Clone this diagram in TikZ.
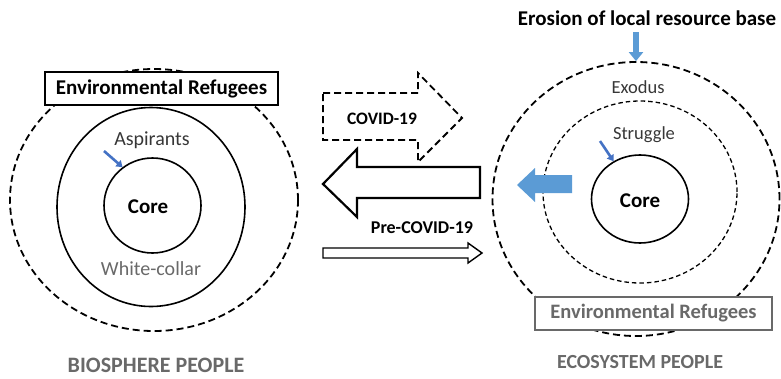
\documentclass[tikz,border=0pt]{standalone}
\usepackage{fontspec}
\setmainfont{Carlito}
\usetikzlibrary{shapes.geometric,arrows.meta}
\definecolor{arrowblue}{RGB}{91,155,213}
\definecolor{darkblue}{RGB}{68,114,196}
\definecolor{greytext}{RGB}{105,105,105}
\definecolor{labeltext}{RGB}{55,55,55}
\tikzset{
  ring/.style={ellipse, draw, inner sep=0pt, line width=1.6pt},
  dashring/.style={ring, line width=1.8pt, dash pattern=on 7pt off 4pt},
  finering/.style={ring, line width=1.3pt, dash pattern=on 4.5pt off 3pt},
  lbl/.style={inner sep=1pt, text=labeltext, font=\fontsize{19}{21}\selectfont},
  boldlbl/.style={inner sep=1pt, font=\fontsize{21}{23}\selectfont\bfseries},
  greylbl/.style={inner sep=1pt, text=greytext, font=\fontsize{20}{22}\selectfont\bfseries},
  refbox/.style={draw, fill=white, line width=1.3pt, inner sep=0pt, minimum height=33pt, font=\fontsize{21}{23}\selectfont\bfseries},
  smallarrow/.style={darkblue, line width=2.6pt, -{Triangle[width=8pt,length=6pt]}},
  blockarrow/.style={line join=miter}
}
\begin{document}
\begin{tikzpicture}[x=1pt,y=-1pt]
\useasboundingbox (0,0) rectangle (781,378);
% ---------- left: biosphere people ----------
\node[dashring, minimum width=288pt, minimum height=262pt] (Lout) at (154,200) {};
\node[ring, minimum width=188pt, minimum height=199pt] (Lmid) at (151,207) {};
\node[ring, minimum width=97pt, minimum height=95pt] (Lcore) at (152.5,205.5) {};
\node[boldlbl] (LcoreT) at (148,207) {Core};
\node[lbl, font=\fontsize{20}{22}\selectfont] (Lasp) at (152,140) {Aspirants};
\coordinate (LaspA) at (104,151);
\draw[smallarrow] (LaspA) -- (Lcore.128);
\node[lbl, text=greytext, font=\fontsize{20}{22}\selectfont] (Lwc) at (151,269) {White-collar};
\node[refbox, minimum width=233pt] (Lref) at (161.5,88.5) {Environmental Refugees};
\node[greylbl, font=\fontsize{22}{24}\selectfont\bfseries] (Lname) at (156,365) {BIOSPHERE PEOPLE};
% ---------- middle arrows ----------
\draw[blockarrow, line width=1.8pt, dash pattern=on 7pt off 4pt]
  (323,93) -- (418,93) -- (418,73) -- (462,118) -- (418,162) -- (418,140) -- (323,140) -- cycle;
\node[inner sep=1pt, font=\fontsize{17.5}{19}\selectfont\bfseries] (covid) at (382,119) {COVID-19};
\draw[blockarrow, line width=2.2pt, fill=white]
  (480,167) -- (357,167) -- (357,149) -- (323,184) -- (357,217) -- (357,198) -- (480,198) -- cycle;
\node[inner sep=1pt, font=\fontsize{18}{20}\selectfont\bfseries] (pre) at (422,228) {Pre-COVID-19};
\draw[blockarrow, line width=1.4pt]
  (323,248) -- (468,248) -- (468,243) -- (482,253) -- (468,263) -- (468,258) -- (323,258) -- cycle;
% ---------- right: ecosystem people ----------
\node[inner sep=1pt, font=\fontsize{21}{23}\selectfont\bfseries] (erosion) at (647,18) {Erosion of local resource base};
\node[dashring, minimum width=287pt, minimum height=274pt] (Rout) at (636,199) {};
\node[finering, minimum width=194pt, minimum height=182pt] (Rmid) at (640,192) {};
\node[ring, minimum width=97pt, minimum height=88pt] (Rcore) at (640,199) {};
\node[boldlbl] (RcoreT) at (640,201) {Core};
\node[lbl, font=\fontsize{18.5}{20}\selectfont] (Rexo) at (638,87) {Exodus};
\node[lbl, font=\fontsize{18.5}{20}\selectfont] (Rstr) at (644,135) {Struggle};
\coordinate (RstrA) at (600,141);
\draw[smallarrow] (RstrA) -- (Rcore.125);
\coordinate (eroStart) at (636,32);
\draw[arrowblue, line width=6pt, -{Triangle[width=14pt,length=9pt]}] (eroStart) -- (Rout.north);
\fill[arrowblue] (572,175) -- (535,175) -- (535,168) -- (517,185) -- (535,202) -- (535,193) -- (572,193) -- cycle;
\node[refbox, draw=greytext, text=greytext, line width=1.2pt, minimum width=237pt, minimum height=33pt, font=\fontsize{20.5}{22}\selectfont\bfseries] (Rref) at (653.5,313.5) {Environmental Refugees};
\node[greylbl] (Rname) at (640,362) {ECOSYSTEM PEOPLE};
\end{tikzpicture}
\end{document}
